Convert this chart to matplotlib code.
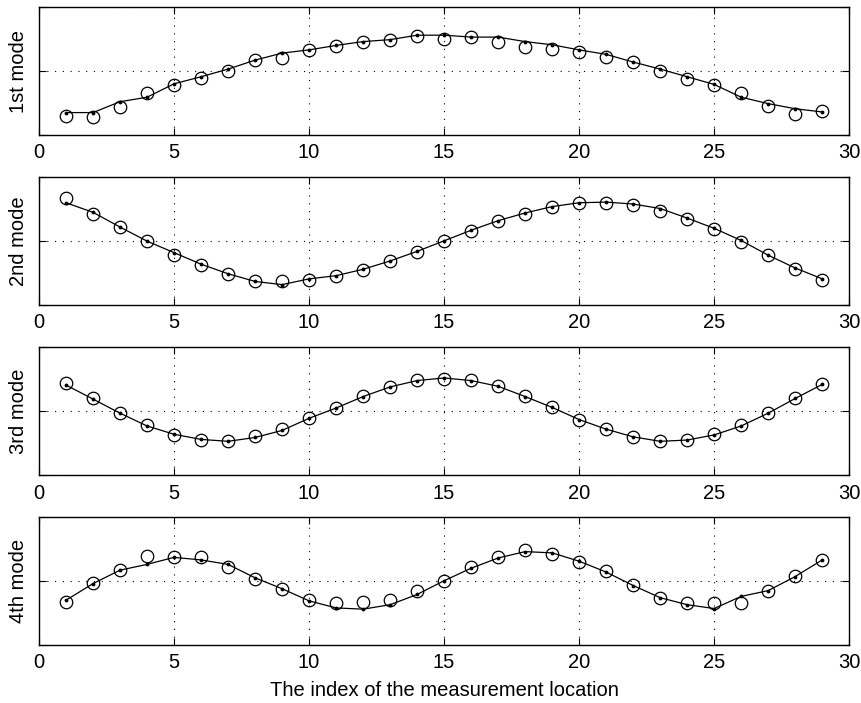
import matplotlib
matplotlib.use("Agg")
import matplotlib.pyplot as plt
import numpy as np

# Индексы точек измерения
idx = np.arange(1, 30)

# Форма моды (линия с точками) и измеренные значения (кружки), отн. ед.
mode1_fit = [-0.65, -0.65, -0.48, -0.41, -0.20, -0.09, 0.03, 0.17, 0.28, 0.33,
             0.40, 0.46, 0.49, 0.56, 0.56, 0.53, 0.53, 0.46, 0.41, 0.33,
             0.26, 0.14, 0.03, -0.09, -0.21, -0.41, -0.51, -0.59, -0.64]
mode1_meas = [-0.71, -0.72, -0.56, -0.35, -0.22, -0.11, 0.005, 0.17, 0.21, 0.33,
              0.39, 0.45, 0.49, 0.55, 0.50, 0.53, 0.46, 0.38, 0.34, 0.30,
              0.22, 0.14, -0.005, -0.13, -0.22, -0.35, -0.54, -0.67, -0.63]

mode2_fit = [0.60, 0.45, 0.22, 0.0, -0.18, -0.36, -0.51, -0.63, -0.68, -0.59,
             -0.54, -0.44, -0.31, -0.16, 0.005, 0.17, 0.32, 0.44, 0.54, 0.60,
             0.61, 0.58, 0.51, 0.36, 0.20, 0.01, -0.22, -0.42, -0.59]
mode2_meas = [0.67, 0.43, 0.22, -0.005, -0.21, -0.37, -0.51, -0.63, -0.62, -0.60,
              -0.55, -0.45, -0.31, -0.17, 0.0, 0.16, 0.31, 0.43, 0.54, 0.60,
              0.60, 0.57, 0.47, 0.35, 0.19, -0.01, -0.22, -0.43, -0.61]

mode3_fit = [0.41, 0.19, -0.03, -0.23, -0.36, -0.44, -0.47, -0.41, -0.30, -0.11,
             0.05, 0.23, 0.38, 0.48, 0.52, 0.48, 0.39, 0.23, 0.06, -0.13,
             -0.28, -0.40, -0.47, -0.45, -0.37, -0.23, -0.03, 0.20, 0.42]
mode3_meas = [0.44, 0.20, -0.03, -0.22, -0.37, -0.45, -0.46, -0.38, -0.28, -0.11,
              0.05, 0.24, 0.38, 0.49, 0.50, 0.49, 0.39, 0.24, 0.07, -0.13,
              -0.28, -0.41, -0.46, -0.45, -0.36, -0.22, -0.02, 0.21, 0.42]

mode4_fit = [-0.30, -0.04, 0.17, 0.26, 0.37, 0.33, 0.26, 0.05, -0.12, -0.31,
             -0.42, -0.44, -0.37, -0.21, 0.005, 0.20, 0.36, 0.46, 0.44, 0.31,
             0.14, -0.07, -0.26, -0.37, -0.43, -0.24, -0.15, 0.07, 0.33]
mode4_meas = [-0.33, -0.03, 0.18, 0.39, 0.38, 0.38, 0.22, 0.03, -0.12, -0.29,
              -0.35, -0.32, -0.30, -0.16, 0.005, 0.22, 0.37, 0.48, 0.43, 0.30,
              0.15, -0.06, -0.26, -0.35, -0.34, -0.35, -0.16, 0.08, 0.33]

labels = ["1st mode", "2nd mode", "3rd mode", "4th mode"]
fits = [mode1_fit, mode2_fit, mode3_fit, mode4_fit]
meas = [mode1_meas, mode2_meas, mode3_meas, mode4_meas]

plt.rcParams["font.family"] = ["Liberation Sans", "DejaVu Sans"]
plt.rcParams["font.size"] = 14.5

fig = plt.figure(figsize=(8.61, 7.03), dpi=100)
bottoms = [0.808, 0.566, 0.324, 0.0825]
for bottom, label, fit, mea in zip(bottoms, labels, fits, meas):
    ax = fig.add_axes([0.0453, bottom, 0.941, 0.182])
    ax.plot(idx, fit, "-", color="black", lw=0.9, marker=".", ms=3.5)
    ax.plot(idx, mea, "o", mfc="none", mec="black", mew=0.9, ms=9)
    ax.set_xlim(0, 30)
    ax.set_ylim(-1, 1)
    ax.set_xticks(np.arange(0, 31, 5))
    ax.set_yticks([-1, 0, 1])
    ax.set_yticklabels([])
    ax.grid(True, ls=(0, (1, 6)), color="black", lw=0.8)
    ax.tick_params(direction="in", top=True, right=True, length=5, width=0.8,
                   pad=6)
    ax.set_ylabel(label)
    ax.yaxis.set_label_coords(-0.014, 0.5)
    for sp in ax.spines.values():
        sp.set_linewidth(1.0)

ax.set_xlabel("The index of the measurement location", labelpad=6)
fig.savefig("out.png", dpi=100)
